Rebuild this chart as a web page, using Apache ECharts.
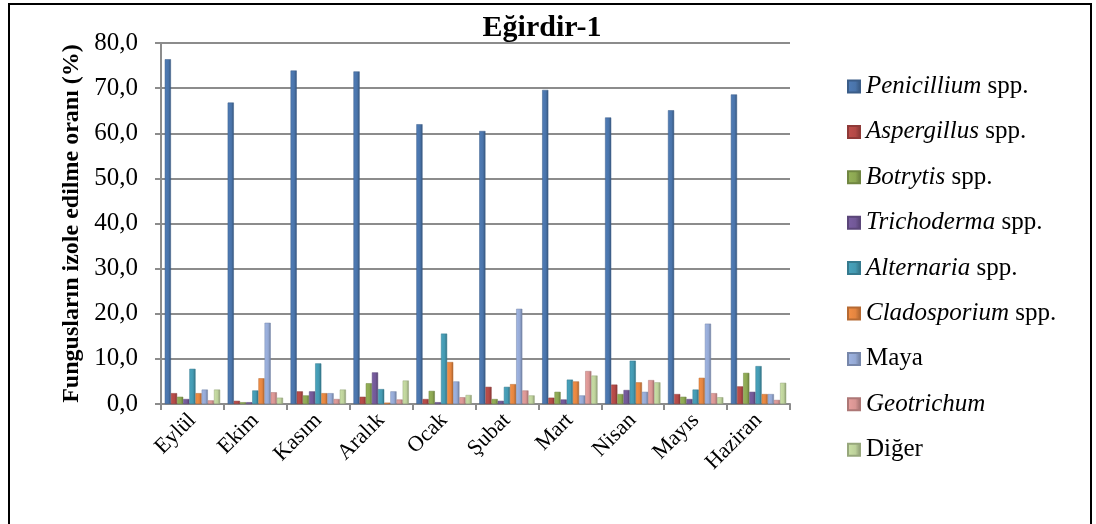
<!DOCTYPE html>
<html>
<head>
<meta charset="utf-8">
<script src="https://cdn.jsdelivr.net/npm/echarts@6/dist/echarts.min.js"></script>
<style>
  html, body { margin: 0; padding: 0; background: #fff; }
  #chart { width: 1096px; height: 524px; }
</style>
</head>
<body>
<div id="chart"></div>
<script>
// Months on the category axis
const months = ['Eylül', 'Ekim', 'Kasım', 'Aralık', 'Ocak', 'Şubat', 'Mart', 'Nisan', 'Mayıs', 'Haziran'];

// Isolation rate (%) per fungus group, one value per month
const penicillium  = [76.4, 66.8, 73.9, 73.7, 62.0, 60.5, 69.6, 63.5, 65.1, 68.6];
const aspergillus  = [2.4, 0.7, 2.8, 1.6, 1.1, 3.8, 1.4, 4.3, 2.2, 3.9];
const botrytis     = [1.6, 0.4, 1.9, 4.6, 2.9, 1.1, 2.7, 2.2, 1.6, 6.9];
const trichoderma  = [1.1, 0.4, 2.8, 7.0, 0.4, 0.7, 1.0, 3.1, 1.1, 2.7];
const alternaria   = [7.8, 3.0, 9.0, 3.3, 15.6, 3.8, 5.4, 9.6, 3.2, 8.4];
const cladosporium = [2.4, 5.7, 2.4, 0.3, 9.3, 4.4, 5.0, 4.8, 5.8, 2.2];
const maya         = [3.2, 18.0, 2.4, 2.8, 5.0, 21.1, 1.9, 2.7, 17.8, 2.2];
const geotrichum   = [0.8, 2.6, 1.1, 1.0, 1.5, 3.0, 7.3, 5.3, 2.4, 0.9];
const diger        = [3.2, 1.4, 3.2, 5.2, 2.0, 1.9, 6.3, 4.8, 1.5, 4.7];

// Y axis tick range
const yMin = 0, yMax = 80, yStep = 10;

const seriesDefs = [
  { name: 'Penicillium',  genus: true,  color: '#4a74aa', data: penicillium },
  { name: 'Aspergillus',  genus: true,  color: '#b34946', data: aspergillus },
  { name: 'Botrytis',     genus: true,  color: '#8ca752', data: botrytis },
  { name: 'Trichoderma',  genus: true,  color: '#725897', data: trichoderma },
  { name: 'Alternaria',   genus: true,  color: '#4499b1', data: alternaria },
  { name: 'Cladosporium', genus: true,  color: '#e48540', data: cladosporium },
  { name: 'Maya',         genus: false, color: '#95a9d4', data: maya },
  { name: 'Geotrichum',   genus: false, italic: true, color: '#d89593', data: geotrichum },
  { name: 'Diğer',        genus: false, color: '#bdd19b', data: diger }
];

function shade(hex, f) {
  const n = parseInt(hex.slice(1), 16);
  let r = (n >> 16) & 255, g = (n >> 8) & 255, b = n & 255;
  r = Math.min(255, Math.round(r * f)); g = Math.min(255, Math.round(g * f)); b = Math.min(255, Math.round(b * f));
  return 'rgb(' + r + ',' + g + ',' + b + ')';
}

const serif = 'Liberation Serif';

const chart = echarts.init(document.getElementById('chart'), null, { renderer: 'canvas' });

chart.setOption({
  animation: false,
  backgroundColor: '#fff',
  title: {
    text: 'Eğirdir-1',
    left: 537,
    textAlign: 'center',
    top: 8,
    textStyle: { fontFamily: serif, fontWeight: 'bold', fontSize: 30, color: '#000' }
  },
  legend: {
    orient: 'vertical',
    left: 842,
    top: 69,
    icon: 'rect',
    itemWidth: 12,
    itemHeight: 12,
    itemGap: 20.4,
    data: seriesDefs.map(s => s.name),
    formatter: function (name) {
      const d = seriesDefs.find(s => s.name === name);
      if (d.genus) return '{i|' + name + '}{n| spp.}';
      if (d.italic) return '{i|' + name + '}';
      return '{n|' + name + '}';
    },
    textStyle: {
      fontFamily: serif,
      fontSize: 25,
      color: '#000',
      padding: [0, 0, 0, 1],
      rich: {
        i: { fontFamily: serif, fontSize: 25, fontStyle: 'italic', color: '#000' },
        n: { fontFamily: serif, fontSize: 25, color: '#000' }
      }
    }
  },
  grid: { left: 161, right: 306, top: 43, bottom: 120 },
  xAxis: {
    type: 'category',
    data: months,
    boundaryGap: true,
    axisLine: { lineStyle: { color: '#8c8c8c', width: 2 } },
    axisTick: { show: true, alignWithLabel: false, length: 6, lineStyle: { color: '#8c8c8c', width: 2 } },
    axisLabel: {
      rotate: 45,
      margin: 13,
      interval: 0,
      fontFamily: serif,
      fontSize: 22,
      color: '#000'
    }
  },
  yAxis: {
    type: 'value',
    min: yMin,
    max: yMax,
    interval: yStep,
    name: 'Fungusların izole edilme oranı (%)',
    nameLocation: 'middle',
    nameGap: 76,
    nameTextStyle: { fontFamily: serif, fontWeight: 'bold', fontSize: 24, color: '#000' },
    axisLine: { show: true, lineStyle: { color: '#8c8c8c', width: 2 } },
    axisTick: { show: true, length: 6, lineStyle: { color: '#8c8c8c', width: 2 } },
    splitLine: { lineStyle: { color: '#8c8c8c', width: 2 } },
    axisLabel: {
      margin: 23,
      fontFamily: serif,
      fontSize: 25,
      color: '#000',
      formatter: v => v.toFixed(1).replace('.', ',')
    }
  },
  series: seriesDefs.map(s => ({
    name: s.name,
    type: 'bar',
    data: s.data,
    barGap: '0%',
    barCategoryGap: '12%',
    itemStyle: {
      color: new echarts.graphic.LinearGradient(0, 0, 1, 0, [
        { offset: 0, color: shade(s.color, 1.08) },
        { offset: 0.6, color: s.color },
        { offset: 1, color: shade(s.color, 0.72) }
      ]),
      borderColor: shade(s.color, 0.8),
      borderWidth: 0.5
    }
  })),
  graphic: [
    {
      type: 'rect',
      silent: true,
      shape: { x: 9, y: 4, width: 1082, height: 540 },
      style: { fill: 'none', stroke: '#000', lineWidth: 2 }
    }
  ]
});
</script>
</body>
</html>
